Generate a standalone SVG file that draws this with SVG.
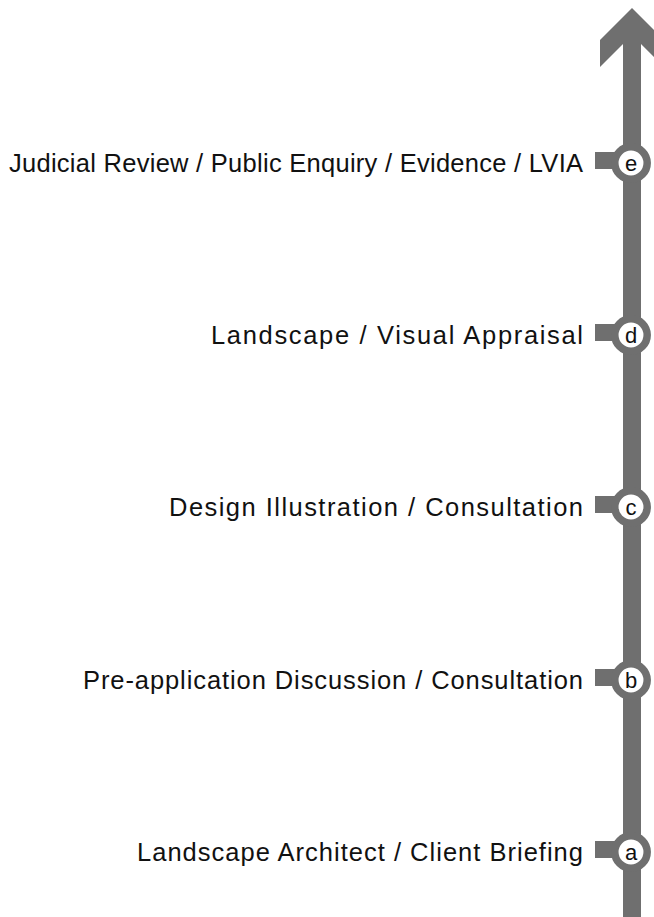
<svg xmlns="http://www.w3.org/2000/svg" width="654" height="917" viewBox="0 0 654 917">
  <style>
    .axis { fill: #6f6f6f; }
    .ring { fill: #ffffff; stroke: #6f6f6f; stroke-width: 7.5; }
    .stub { fill: #6f6f6f; }
    .label { font-family: "Liberation Sans", Arial, sans-serif; font-size: 25.5px; fill: #111111; text-anchor: end; }
    .letter { font-family: "Liberation Sans", Arial, sans-serif; font-size: 22px; fill: #111111; text-anchor: middle; }
  </style>
  <rect width="654" height="917" fill="#ffffff"/>

  <!-- timeline arrow -->
  <g id="connectors">
    <rect class="axis" x="623" y="40" width="18" height="877"/>
    <polygon class="axis" points="632,8 664,40 664,67 641,44 623,44 600,67 600,40"/>
  </g>

  <g id="stage-e">
    <rect class="stub" x="595" y="152" width="22" height="17"/>
    <circle class="ring" cx="631" cy="163" r="16.2"/>
    <text class="letter" x="631" y="171">e</text>
    <text class="label" x="583" y="172" textLength="574" lengthAdjust="spacing">Judicial Review / Public Enquiry / Evidence / LVIA</text>
  </g>

  <g id="stage-d">
    <rect class="stub" x="595" y="324" width="22" height="17"/>
    <circle class="ring" cx="631" cy="335" r="16.2"/>
    <text class="letter" x="631" y="343">d</text>
    <text class="label" x="583" y="344" textLength="372" lengthAdjust="spacing">Landscape / Visual Appraisal</text>
  </g>

  <g id="stage-c">
    <rect class="stub" x="595" y="496" width="22" height="17"/>
    <circle class="ring" cx="631" cy="507" r="16.2"/>
    <text class="letter" x="631" y="515">c</text>
    <text class="label" x="583" y="516" textLength="414" lengthAdjust="spacing">Design Illustration / Consultation</text>
  </g>

  <g id="stage-b">
    <rect class="stub" x="595" y="669" width="22" height="17"/>
    <circle class="ring" cx="631" cy="680" r="16.2"/>
    <text class="letter" x="631" y="688">b</text>
    <text class="label" x="583" y="689" textLength="500" lengthAdjust="spacing">Pre-application Discussion / Consultation</text>
  </g>

  <g id="stage-a">
    <rect class="stub" x="595" y="841" width="22" height="17"/>
    <circle class="ring" cx="631" cy="852" r="16.2"/>
    <text class="letter" x="631" y="860">a</text>
    <text class="label" x="583" y="861" textLength="446" lengthAdjust="spacing">Landscape Architect / Client Briefing</text>
  </g>
</svg>
